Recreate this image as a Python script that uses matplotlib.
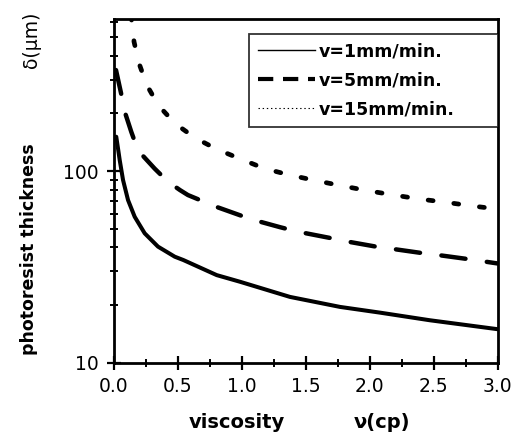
import matplotlib
matplotlib.use("Agg")
import matplotlib.pyplot as plt
from matplotlib.lines import Line2D
from matplotlib.ticker import FixedLocator, NullFormatter, MultipleLocator

plt.rcParams['font.family'] = ['DejaVu Sans']
plt.rcParams['lines.scale_dashes'] = False

# ---- data ----
x_v1 = [0.020, 0.036, 0.047, 0.073, 0.112, 0.164, 0.242, 0.346, 0.477, 0.544,
        0.805, 0.987, 1.377, 1.768, 2.08, 2.47, 3.0]
y_v1 = [151, 128, 114, 89.8, 70.6, 57.8, 47.4, 40.4, 35.8, 34.4,
        28.7, 26.5, 22.1, 19.6, 18.3, 16.7, 15.0]

x_v5 = [0.018, 0.06, 0.075, 0.1375, 0.19, 0.32, 0.424, 0.518, 0.58, 0.805,
        1.078, 1.30, 1.44, 1.677, 1.82, 2.04, 2.18, 2.42, 2.55, 2.78, 3.0]
y_v5 = [336, 250, 215, 160, 128, 103, 88, 79.6, 75, 65,
        56, 51, 48.3, 45, 43, 40.5, 39.3, 37.3, 36.4, 34.7, 33.0]

x_v15 = [0.135, 0.159, 0.198, 0.258, 0.349, 0.479, 0.635, 0.805, 1.0, 1.18,
         1.377, 1.586, 1.79, 1.99, 2.19, 2.39, 2.6, 2.8, 3.0]
y_v15 = [650, 471, 364, 281, 220, 177, 149, 130, 115, 103,
         95.3, 89, 83.6, 78.9, 75, 71.5, 68.7, 65.8, 63.4]

labels = ["v=1mm/min.", "v=5mm/min.", "v=15mm/min."]
x_ticks = [0.0, 0.5, 1.0, 1.5, 2.0, 2.5, 3.0]
x_ticklabels = ["0.0", "0.5", "1.0", "1.5", "2.0", "2.5", "3.0"]
y_ticks = [10, 100]
y_ticklabels = ["10", "100"]
y_minor = [20, 30, 40, 50, 60, 70, 80, 90, 200, 300, 400, 500, 600]

W, H = 526, 437
fig = plt.figure(figsize=(W / 100, H / 100), dpi=100)
ax = fig.add_axes([113.7 / W, 1 - 363 / H, 384 / W, 344 / H])

ax.plot(x_v1, y_v1, color='black', lw=2.9, solid_capstyle='round')
ax.plot(x_v5, y_v5, color='black', lw=3.2, dashes=(17.5, 15.5),
        dash_capstyle='round')
ax.plot(x_v15, y_v15, color='black', lw=3.4, dashes=(3.6, 15.0),
        dash_capstyle='round')

ax.set_yscale('log')
ax.set_xlim(0, 3.0)
ax.set_ylim(10, 620)

ax.set_xticks(x_ticks)
ax.set_xticklabels(x_ticklabels)
ax.xaxis.set_minor_locator(MultipleLocator(0.25))
ax.yaxis.set_major_locator(FixedLocator(y_ticks))
ax.set_yticklabels(y_ticklabels)
ax.yaxis.set_minor_locator(FixedLocator(y_minor))
ax.yaxis.set_minor_formatter(NullFormatter())

for s in ax.spines.values():
    s.set_linewidth(2.0)

ax.tick_params(which='major', direction='inout', length=10, width=1.6,
               labelsize=13.5, top=False, right=False)
ax.tick_params(which='minor', direction='inout', length=6, width=1.4,
               top=False, right=False)
ax.tick_params(axis='x', which='major', pad=5)
ax.tick_params(axis='y', which='major', pad=6)

handles = [
    Line2D([], [], color='black', lw=1.0),
    Line2D([], [], color='black', lw=3.0, dashes=(11, 7)),
    Line2D([], [], color='black', lw=0.8, dashes=(1, 2)),
]
leg = ax.legend(handles, labels, loc='upper left',
                bbox_to_anchor=(0.352, 0.690, 0.648, 0.267), mode='expand',
                borderaxespad=0, fancybox=False, frameon=True,
                prop={'family': 'DejaVu Sans', 'weight': 'bold', 'size': 12.5},
                handlelength=3.3, handletextpad=0.2, labelspacing=0.62,
                borderpad=0.5)
leg.get_frame().set_edgecolor('black')
leg.get_frame().set_linewidth(1.3)

fig.text(237 / W, 1 - 423 / H, "viscosity", ha='center', va='center',
         fontsize=14, fontweight='bold')
fig.text(382 / W, 1 - 423 / H, "ν(cp)", ha='center', va='center',
         fontsize=14, fontweight='bold')
fig.text(29 / W, 1 - 249 / H, "photoresist thickness", ha='center',
         va='center', rotation=90, fontsize=12.5, fontweight='bold')
fig.text(32 / W, 1 - 40 / H, "δ(μm)", ha='center', va='center',
         rotation=90, fontsize=13.5)

fig.savefig("out.png", dpi=100)
